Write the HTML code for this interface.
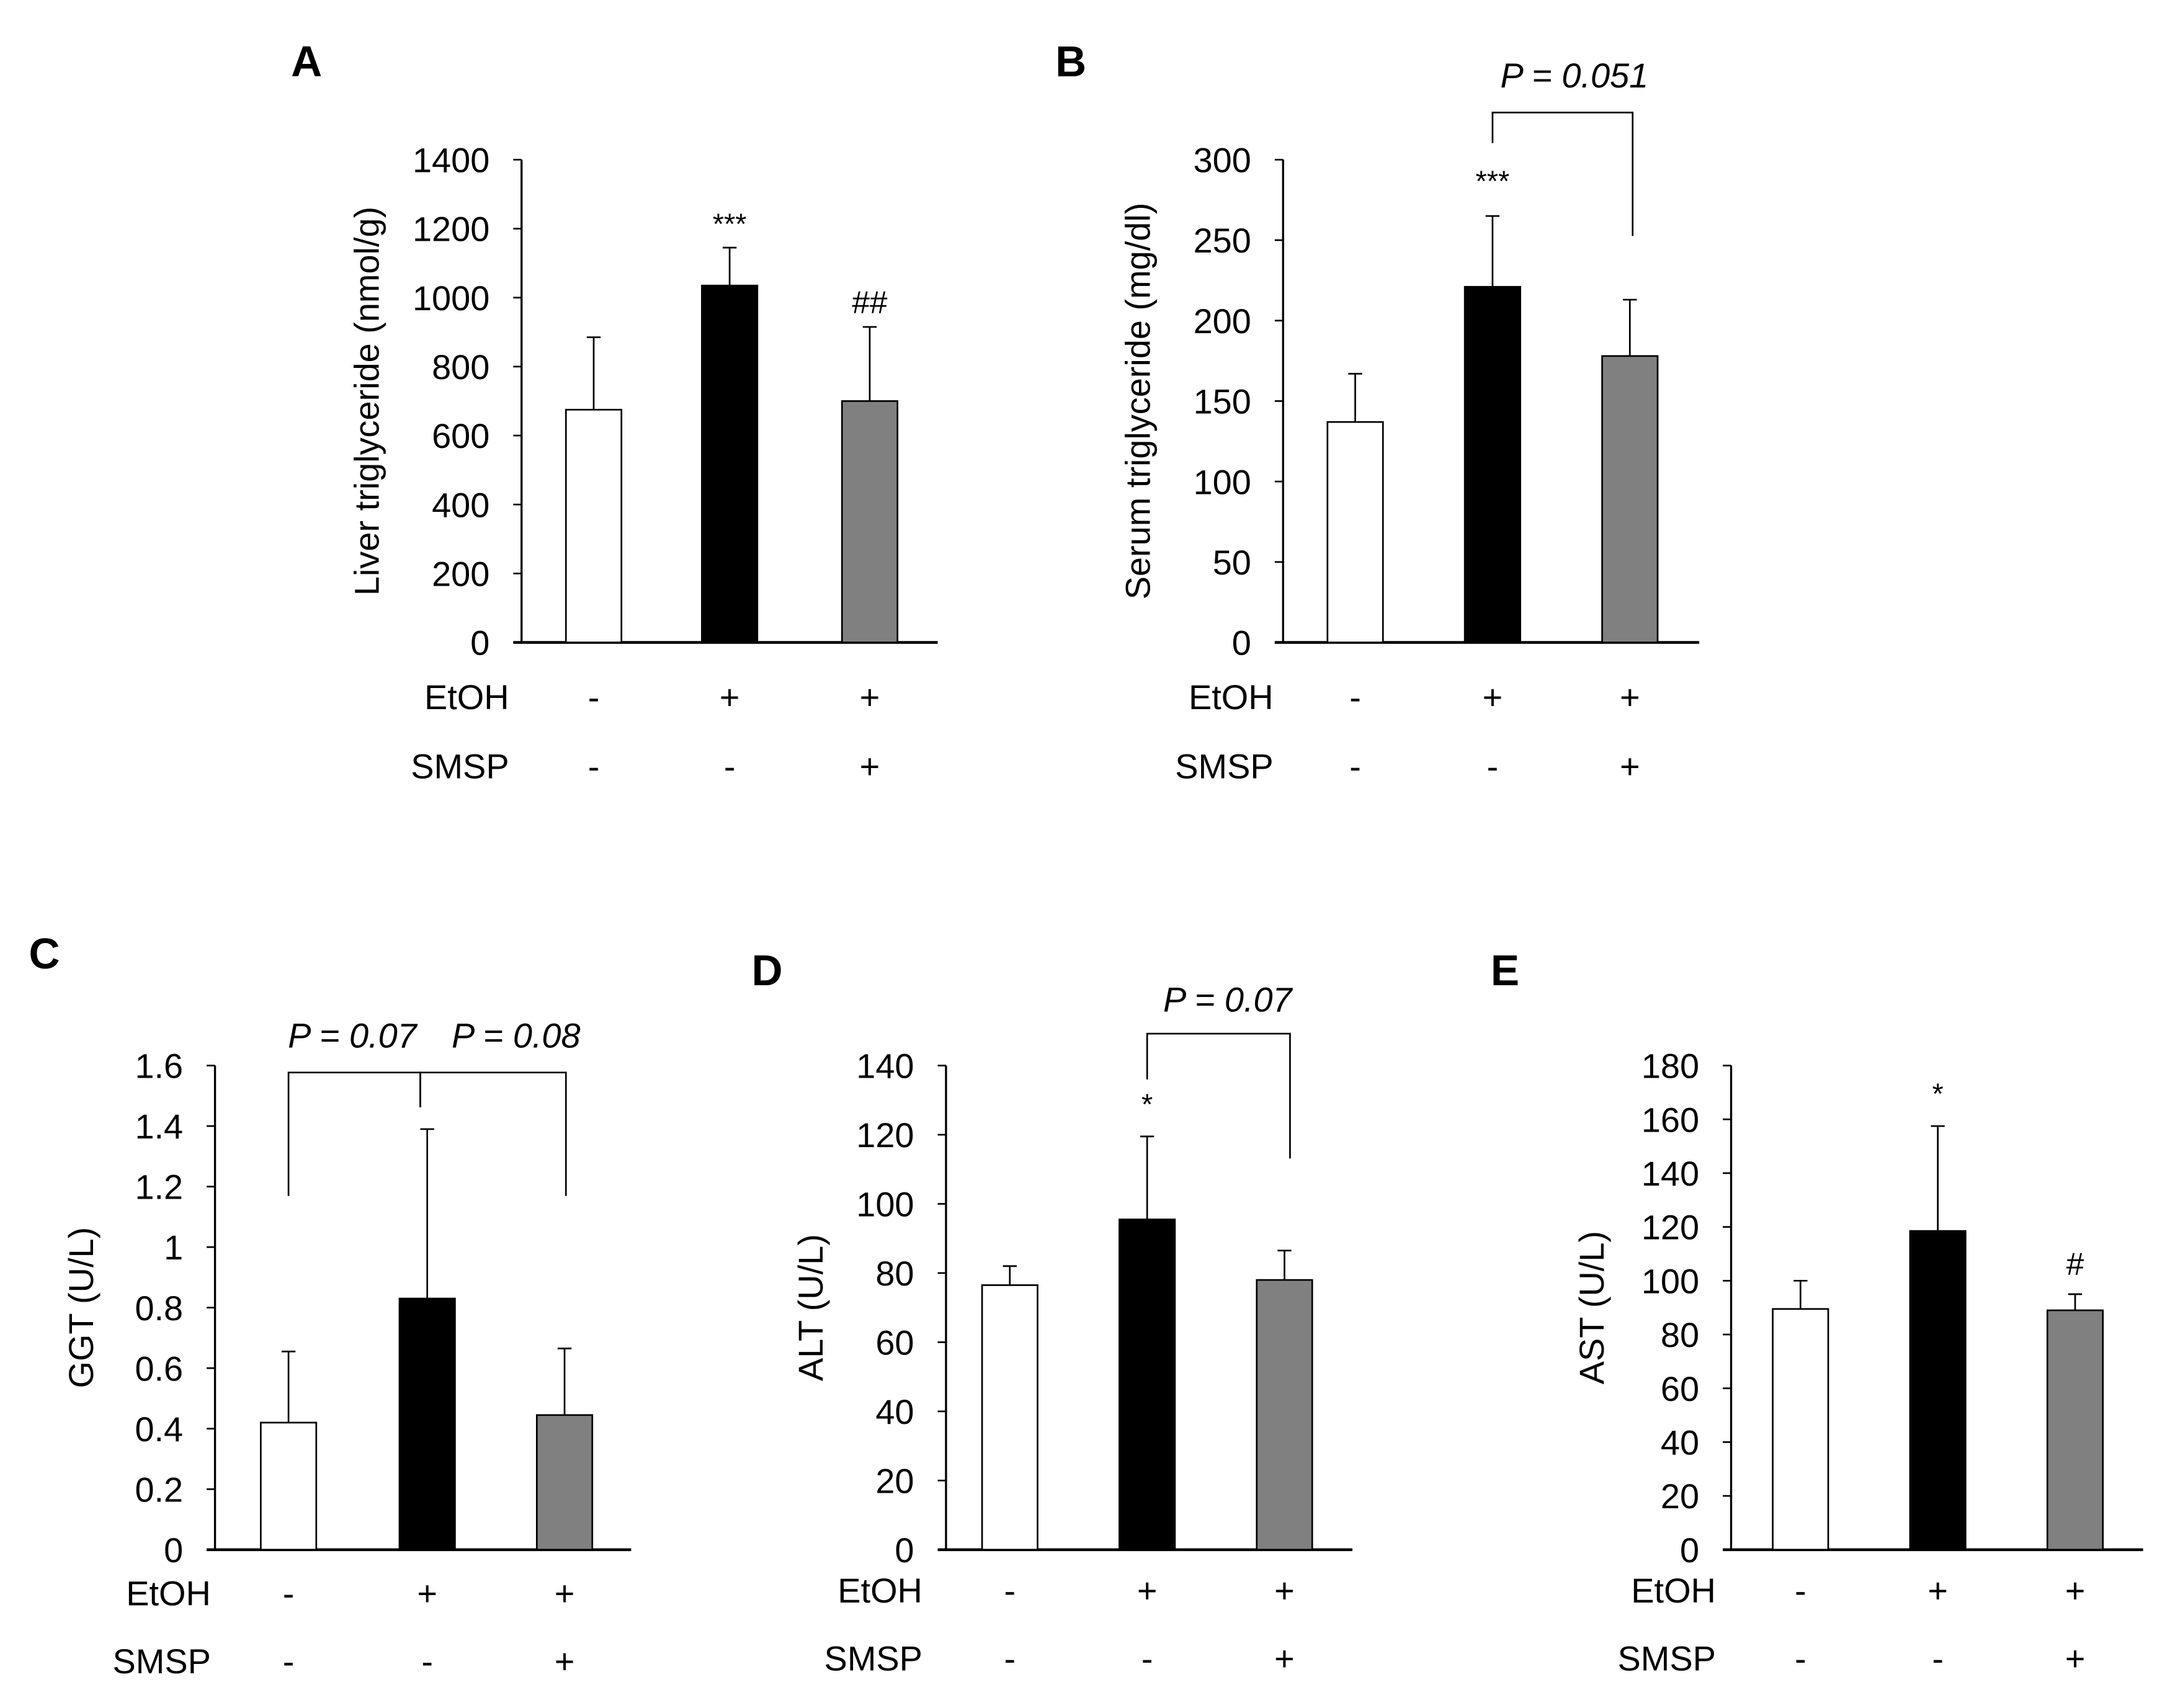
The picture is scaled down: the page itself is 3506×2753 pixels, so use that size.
<!DOCTYPE html>
<html><head><meta charset="utf-8"><style>
html,body{margin:0;padding:0;background:#fff}
svg{display:block}
text{font-family:"Liberation Sans",Arial,sans-serif;fill:#000}
</style></head><body>
<svg id="fig" width="3506" height="2753" viewBox="0 0 1568 1231" xmlns="http://www.w3.org/2000/svg"></svg>
<script>
const categories = ["Control","EtOH","EtOH+SMSP"];
const etohLabels = ["-","+","+"];
const smspLabels = ["-","-","+"];
const valuesA = [675,1035,700];
const errorsA = [885,1145,915];
const ticksA = [0,200,400,600,800,1000,1200,1400];
const valuesB = [137,221,178];
const errorsB = [167,265,213];
const ticksB = [0,50,100,150,200,250,300];
const valuesC = [0.42,0.83,0.445];
const errorsC = [0.655,1.39,0.665];
const ticksC = [0,0.2,0.4,0.6,0.8,1,1.2,1.4,1.6];
const valuesD = [76.5,95.5,78];
const errorsD = [82,119.5,86.5];
const ticksD = [0,20,40,60,80,100,120,140];
const valuesE = [89.5,118.5,89];
const errorsE = [100,157.5,95];
const ticksE = [0,20,40,60,80,100,120,140,160,180];
const fills = ["#ffffff","#000000","#808080"];

const svg = document.getElementById('fig');
const NS = "http://www.w3.org/2000/svg";
function el(tag, attrs, parent){const e=document.createElementNS(NS,tag);for(const k in attrs)e.setAttribute(k,attrs[k]);(parent||svg).appendChild(e);return e;}
function txt(s, attrs, parent){const e=el('text',attrs,parent);e.textContent=s;return e;}
const FS=25;

function panel(p){
  const g=el('g',{});
  
  
  const max=p.ticks[p.ticks.length-1];
  const y=v=>p.y0-(v/max)*(p.y0-p.yTop);
  const t=txt(p.id,{x:p.lx,y:p.ly,'font-size':31,'font-weight':'bold','text-anchor':'middle'},g);
  
  
  const ya=el('line',{x1:p.ax,y1:p.yTop,x2:p.ax,y2:p.y0,stroke:'#000','stroke-width':1.5},g);
  
  
  const xa=el('line',{x1:p.ax-6,y1:p.y0,x2:p.axEnd,y2:p.y0,stroke:'#000','stroke-width':2},g);
  
  
  p.ticks.forEach(tv=>{
    const ty=y(tv);
    el('line',{x1:p.ax-6,y1:ty,x2:p.ax,y2:ty,stroke:'#000','stroke-width':1.2},g);
    const lab=txt(String(tv),{x:p.ax-23,y:ty+9,'font-size':FS,'text-anchor':'end'},g);
    
    
  });
  const yt=txt(p.title,{x:0,y:0,'font-size':FS,'text-anchor':'middle',transform:`translate(${p.tx},${(p.yTop+p.y0)/2}) rotate(-90)`},g);
  
  
  p.values.forEach((v,i)=>{
    const cx=p.cx[i];
    const e=p.errors[i];
    el('line',{x1:cx,y1:y(v),x2:cx,y2:y(e),stroke:'#000','stroke-width':1.2},g);
    el('line',{x1:cx-5,y1:y(e),x2:cx+5,y2:y(e),stroke:'#000','stroke-width':1.2},g);
    const b=el('rect',{x:cx-20,y:y(v),width:40,height:p.y0-y(v),fill:fills[i],stroke:'#000','stroke-width':1.2},g);
    
    
    const a=txt(etohLabels[i],{x:cx,y:p.rowY1+9,'font-size':FS,'text-anchor':'middle'},g);
    
    
    const s=txt(smspLabels[i],{x:cx,y:p.rowY2+9,'font-size':FS,'text-anchor':'middle'},g);
    
    
  });
  const r1=txt('EtOH',{x:p.rowX,y:p.rowY1+9,'font-size':FS,'text-anchor':'end'},g);
  
  
  const r2=txt('SMSP',{x:p.rowX,y:p.rowY2+9,'font-size':FS,'text-anchor':'end'},g);
  
  
  (p.marks||[]).forEach(m=>{
    const mk=txt(m.s,{x:p.cx[m.i],y:y(p.errors[m.i])-m.off,'font-size':m.fs||21,'text-anchor':'middle'},g);
    
    
  });
  (p.brackets||[]).forEach(br=>{
    const pl=el('polyline',{points:`${br.x1},${br.b1} ${br.x1},${br.top} ${br.x2},${br.top} ${br.x2},${br.b2}`,fill:'none',stroke:'#000','stroke-width':1.2},g);
    
    
    const pt=txt(br.label,{x:br.tx,y:br.ty,'font-size':FS,'font-style':'italic','text-anchor':'middle'},g);
    
    
  });
}

panel({id:'A',lx:221,ly:55,ax:376,axEnd:676,y0:463,yTop:115,ticks:ticksA,values:valuesA,errors:errorsA,
  cx:[428,526,627],title:'Liver triglyceride (nmol/g)',tx:273,rowX:367,rowY1:502,rowY2:552,
  marks:[{i:1,s:'***',off:10},{i:2,s:'##',off:10,fs:23}]});
panel({id:'B',lx:772,ly:55,ax:925,axEnd:1225,y0:463,yTop:115,ticks:ticksB,values:valuesB,errors:errorsB,
  cx:[977,1076,1175],title:'Serum triglyceride (mg/dl)',tx:829,rowX:918,rowY1:502,rowY2:552,
  marks:[{i:1,s:'***',off:18}],
  brackets:[{x1:1076,x2:1177,top:81,b1:103,b2:170,tx:1135,ty:63,label:'P = 0.051'}]});
panel({id:'C',lx:32,ly:698,ax:155,axEnd:455,y0:1117,yTop:768,ticks:ticksC,values:valuesC,errors:errorsC,
  cx:[208,308,407],title:'GGT (U/L)',tx:67,rowX:152,rowY1:1148,rowY2:1197,
  brackets:[{x1:208,x2:303,top:773,b1:862,b2:798,tx:254,ty:755,label:'P = 0.07'},
            {x1:303,x2:408,top:773,b1:798,b2:862,tx:372,ty:755,label:'P = 0.08'}]});
panel({id:'D',lx:553,ly:710,ax:682,axEnd:975,y0:1117,yTop:768,ticks:ticksD,values:valuesD,errors:errorsD,
  cx:[728,827,926],title:'ALT (U/L)',tx:593,rowX:665,rowY1:1146,rowY2:1195,
  marks:[{i:1,s:'*',off:16}],
  brackets:[{x1:827,x2:930,top:745,b1:778,b2:835,tx:885,ty:729,label:'P = 0.07'}]});
panel({id:'E',lx:1085,ly:710,ax:1248,axEnd:1545,y0:1117,yTop:768,ticks:ticksE,values:valuesE,errors:errorsE,
  cx:[1298,1397,1496],title:'AST (U/L)',tx:1156,rowX:1237,rowY1:1146,rowY2:1195,
  marks:[{i:1,s:'*',off:16},{i:2,s:'#',off:14,fs:23}]});
</script>
</body></html>
